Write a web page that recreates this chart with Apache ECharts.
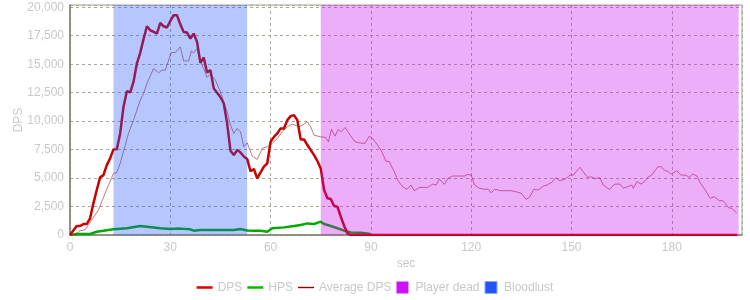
<!DOCTYPE html>
<html>
<head>
<meta charset="utf-8">
<script src="https://cdn.jsdelivr.net/npm/echarts@6/dist/echarts.min.js"></script>
<style>html,body{margin:0;padding:0;background:#fff}#c{width:750px;height:300px}</style>
</head>
<body>
<div id="c"></div>
<script>
// ---- data ----
const dpsTime = [0,1,2,3,4,5,6,7,8,9,10,11,12,13,14,15,16,17,18,19,20,21,22,23,24,25,26,27,28,29,30,31,32,33,34,35,36,37,38,39,40,41,42,43,44,45,46,47,48,49,50,51,52,53,54,55,56,57,58,59,60,61,62,63,64,65,66,67,68,69,70,71,72,73,74,75,76,77,78,79,80,81,82,83,84,199.5];
const dpsValues = [0,400,790,790,960,960,1460,2780,3950,5060,5260,6140,6730,7520,7540,8920,11250,12630,12520,13450,15060,16000,17200,18330,17980,17850,17690,18620,18330,18220,18800,19300,19300,18500,17830,17780,17250,17690,16960,15120,15590,14270,14480,12870,12500,12100,11550,9800,7400,7020,7460,7250,6900,6670,5600,5800,4970,5500,6000,6300,8190,8620,8920,9360,9360,10090,10440,10530,10090,8390,8390,7900,7460,7020,6500,5850,3950,3220,3160,2540,2480,1600,800,150,0,0];

const hpsTime = [0,2,6,8,10,13,17,21,23,27,30,33,36,37,39,49,51,53,55,57,59,60.5,64,67,69,71,73,75,76,78,80,82,84,87,89.5,90];
const hpsValues = [0,90,90,290,380,500,590,790,730,590,530,560,500,380,440,440,520,400,380,380,290,590,670,790,880,1020,970,1170,970,790,590,380,230,200,120,0];

const avgTime = [0,1.5,3,4.5,6.5,8.5,10.5,13,14,15,17.5,19,21,22,23,25,26.5,27.5,28.5,30.3,31.5,33,34,35.5,36.3,37,38,39,40,41,42,43.5,45,47,48,49,50,51,52,53,54.5,56,57.5,59,60.5,62,63.5,65,66.5,68.5,70,71,72,73,75,76.5,77.3,78.2,79.3,80.2,81,82.3,83.8,85.2,86.5,88.2,89.5,90.5,92,93,94.5,95.5,97,98,99.5,100.8,102,103,104.5,107,108.5,109.5,110.5,112,113,114.5,118,119,120,121,122.5,124,125,126,127,129,132,134,135,136.4,137.5,138.7,140,141.5,142.7,144.1,145.3,146.5,148.3,149.5,150.5,152.5,153.5,154.8,156,157,158.5,159.5,161.3,163,164.5,165.5,166.8,168,168.5,169.5,170.8,172,173,174,175.8,176.8,177.8,179,179.8,181.5,182.8,184.2,185.2,186.3,187.5,188.5,190,191.5,192.7,194.2,195.3,197,198,199.5];
const avgValues = [0,0,380,440,1320,2190,3660,5410,5470,6290,8920,10090,11840,12430,13300,14620,14240,14480,14480,16030,16030,16520,15290,15290,16170,16000,16380,15200,14620,13830,14130,13600,12570,10820,9650,8920,9360,9060,7750,8100,6930,6640,7600,7750,8040,8480,9060,9500,9740,9500,9740,9940,9500,8770,8620,8570,8190,9270,8680,9270,9060,9450,8770,8190,8100,8040,8680,8480,7900,7460,6490,6430,5550,4820,4240,4010,4390,3890,4180,4180,4470,4390,4910,4450,4970,5180,5180,5320,5260,4390,4100,4010,4040,3710,4010,3890,3890,3750,3660,3130,3330,4010,3950,4270,4390,4630,5030,4760,4930,5260,5260,5940,5550,5060,5110,4970,5030,4390,4010,4470,4470,4100,4240,4390,4100,4680,4470,4760,5110,5260,5990,5990,5700,5550,5350,5640,5260,5260,5060,5350,5180,4590,3950,3220,3360,3010,3010,2400,2340,1900];

const bloodlust = [13, 53];
const playerDead = [75, 200];
const seriesNames = ['DPS', 'HPS', 'Average DPS', 'Player dead', 'Bloodlust'];

const zip = (t, v) => t.map((x, i) => [x, v[i]]);

const txt = '#c8c8c8';
const font = 'Liberation Sans, Arial, sans-serif';
const sq = 'path://M0,0h10v10h-10z';

const chart = echarts.init(document.getElementById('c'));
chart.setOption({
  animation: false,
  textStyle: { fontFamily: font },
  grid: { left: 70, right: 8, top: 5, bottom: 65, show: true, borderColor: '#a0a090', borderWidth: 1,
    outerBoundsMode: 'none', containLabel: false },
  legend: {
    bottom: 1,
    left: 'center',
    itemWidth: 16,
    itemHeight: 12,
    itemGap: 5,
    symbolKeepAspect: true,
    textStyle: { color: txt, fontSize: 12, fontFamily: font },
    data: [
      { name: 'DPS', icon: 'path://M0,0h16v2.5h-16z', itemStyle: { color: '#dd0000' } },
      { name: 'HPS', icon: 'path://M0,0h16v2.5h-16z', itemStyle: { color: '#00bb00' } },
      { name: 'Average DPS', icon: 'path://M0,0h16v1.4h-16z', itemStyle: { color: '#990000' } },
      { name: 'Player dead', icon: sq, itemStyle: { color: '#cc11ff' } },
      { name: 'Bloodlust', icon: sq, itemStyle: { color: '#2255ff', borderColor: '#88a8ff', borderWidth: 1 } }
    ]
  },
  xAxis: {
    type: 'value', min: 0, max: 201, interval: 30,
    name: 'sec', nameLocation: 'middle', nameGap: 23, nameMoveOverlap: false,
    nameTextStyle: { color: txt, fontSize: 12 },
    axisLine: { show: true, onZero: false, lineStyle: { color: '#808068', width: 1.5 } },
    axisTick: { show: false },
    axisLabel: { color: txt, fontSize: 12, margin: 7, showMaxLabel: false },
    splitLine: { show: true, lineStyle: { color: '#a8a898', type: [3, 3] } }
  },
  yAxis: {
    type: 'value', min: 0, max: 20200, interval: 2500,
    name: 'DPS', nameLocation: 'middle', nameGap: 45, nameMoveOverlap: false,
    nameTextStyle: { color: txt, fontSize: 12 },
    axisLine: { show: true, lineStyle: { color: '#808068', width: 1.5 } },
    axisTick: { show: false },
    axisLabel: { color: txt, fontSize: 12, margin: 6, showMaxLabel: false,
      formatter: v => v.toLocaleString('en-US') },
    splitLine: { show: true, lineStyle: { color: '#a8a898', type: [3, 3] } }
  },
  series: [
    { name: seriesNames[0], type: 'line', data: zip(dpsTime, dpsValues), showSymbol: false, symbol: 'none',
      color: '#cc0000', lineStyle: { color: '#cc0000', width: 2.5 }, z: 3 },
    { name: seriesNames[1], type: 'line', data: zip(hpsTime, hpsValues), showSymbol: false, symbol: 'none',
      color: '#00aa00', lineStyle: { color: '#00aa00', width: 2.5 }, z: 2 },
    { name: seriesNames[2], type: 'line', data: zip(avgTime, avgValues), showSymbol: false, symbol: 'none',
      color: '#990000', lineStyle: { color: '#a02020', width: 1, opacity: 0.6 }, z: 4 },
    { name: seriesNames[3], type: 'line', data: [], color: '#cc11ff', z: 10,
      markArea: { silent: true, z: 20, itemStyle: { color: 'rgba(198,10,238,0.33)' },
        data: [[{ xAxis: playerDead[0] }, { xAxis: playerDead[1] }]] } },
    { name: seriesNames[4], type: 'line', data: [], color: '#2255ff', z: 10,
      markArea: { silent: true, z: 20, itemStyle: { color: 'rgba(34,85,255,0.33)' },
        data: [[{ xAxis: bloodlust[0] }, { xAxis: bloodlust[1] }]] } }
  ]
});
</script>
</body>
</html>
